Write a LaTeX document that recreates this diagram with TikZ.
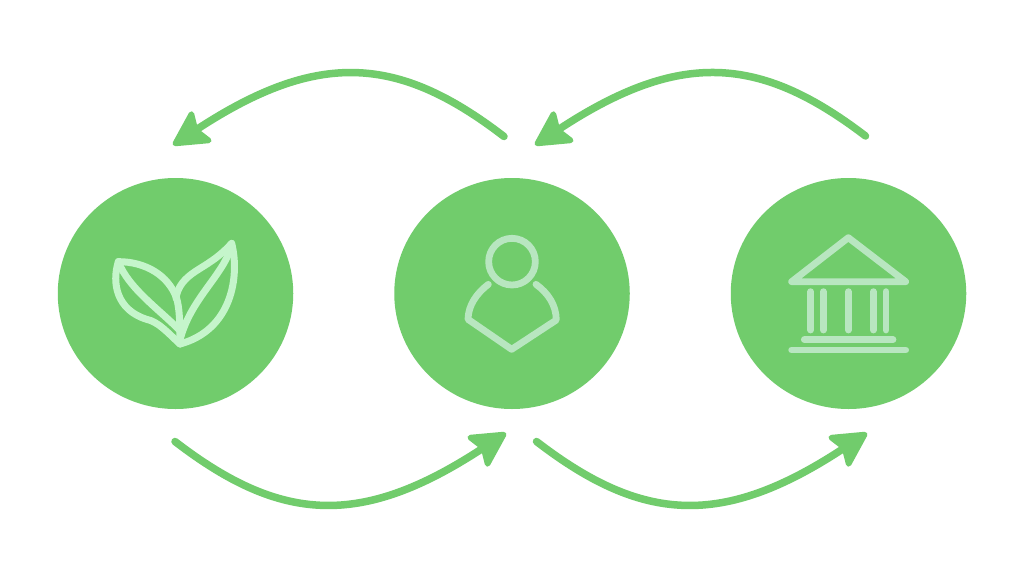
\documentclass[tikz,border=0pt]{standalone}
\usetikzlibrary{arrows.meta,shapes.geometric}
\definecolor{leafgreen}{RGB}{113,204,108}
\definecolor{leaficon}{RGB}{197,245,203}
\definecolor{paleicon}{RGB}{184,230,192}
\tikzset{
  disc/.style={ellipse,fill=leafgreen,draw=none,minimum width=235.5pt,minimum height=231pt,inner sep=0pt},
  flow/.style={draw=leafgreen,line width=7.5pt,line cap=round,
    -{Stealth[round,length=40pt,width=42pt,inset=7pt,line width=5.5pt,fill=leafgreen]}},
  leafline/.style={draw=leaficon,line width=7pt,line cap=round,line join=round},
  paleline/.style={draw=paleicon,line width=6.8pt,line cap=round,line join=round}
}
\begin{document}
\begin{tikzpicture}[x=1pt,y=-1pt]
\useasboundingbox (0,0) rectangle (1024,578);
\fill[white] (0,0) rectangle (1024,578);
\node[disc] (plant) at (175.5,293.5) {};
\node[disc] (person) at (512,293.5) {};
\node[disc] (bank) at (848.5,293.5) {};
% connector ends
\coordinate (t1s) at (504,136.5);
\coordinate (t1e) at (173,145);
\coordinate (t2s) at (865.5,136);
\coordinate (t2e) at (535,145);
\coordinate (b1s) at (175,441.5);
\coordinate (b1e) at (506,433);
\coordinate (b2s) at (536.5,441.5);
\coordinate (b2e) at (867,433);
\draw[flow] (t1s) .. controls (398,55) and (318,50) .. (t1e);
\draw[flow] (t2s) .. controls (759.5,55) and (679.5,50) .. (t2e);
\draw[flow] (b1s) .. controls (281,523) and (361,528) .. (b1e);
\draw[flow] (b2s) .. controls (642.5,523) and (722.5,528) .. (b2e);
% leaf icon
\begin{scope}[shift={(90,220)},scale=1/3]
\draw[leafline] (85,125) .. controls (165,125) and (235,165) .. (260,235)
  .. controls (268,265) and (270,300) .. (270,372);
\draw[leafline] (85,125) .. controls (65,190) and (80,270) .. (170,298)
  .. controls (205,305) and (235,340) .. (270,372);
\draw[leafline] (85,125) .. controls (115,205) and (210,270) .. (268,330);
\draw[leafline] (425,70) .. controls (385,115) and (345,135) .. (315,155)
  .. controls (285,175) and (262,200) .. (258,235);
\draw[leafline] (425,70) .. controls (450,170) and (425,330) .. (270,372);
\draw[leafline] (422,85) .. controls (395,170) and (300,240) .. (270,360);
\end{scope}
% person icon
\begin{scope}[shift={(440,220)},scale=1/3]
\draw[paleline] (216,125) circle (70);
\draw[paleline] (145,193) .. controls (110,220) and (85,255) .. (84,298)
  -- (215,388) -- (349,300) .. controls (348,255) and (325,220) .. (288,193);
\end{scope}
% bank icon
\begin{scope}[shift={(775,225)},scale=1/3]
\draw[paleline] (220,38) -- (392,170) -- (50,170) -- cycle;
\foreach \cx in {107,145,220,295,333}
  \draw[paleline] (\cx,200) -- (\cx,315);
\draw[paleline] (88,344) -- (354,344);
\draw[paleline] (50,375) -- (392,375);
\end{scope}
\end{tikzpicture}
\end{document}
